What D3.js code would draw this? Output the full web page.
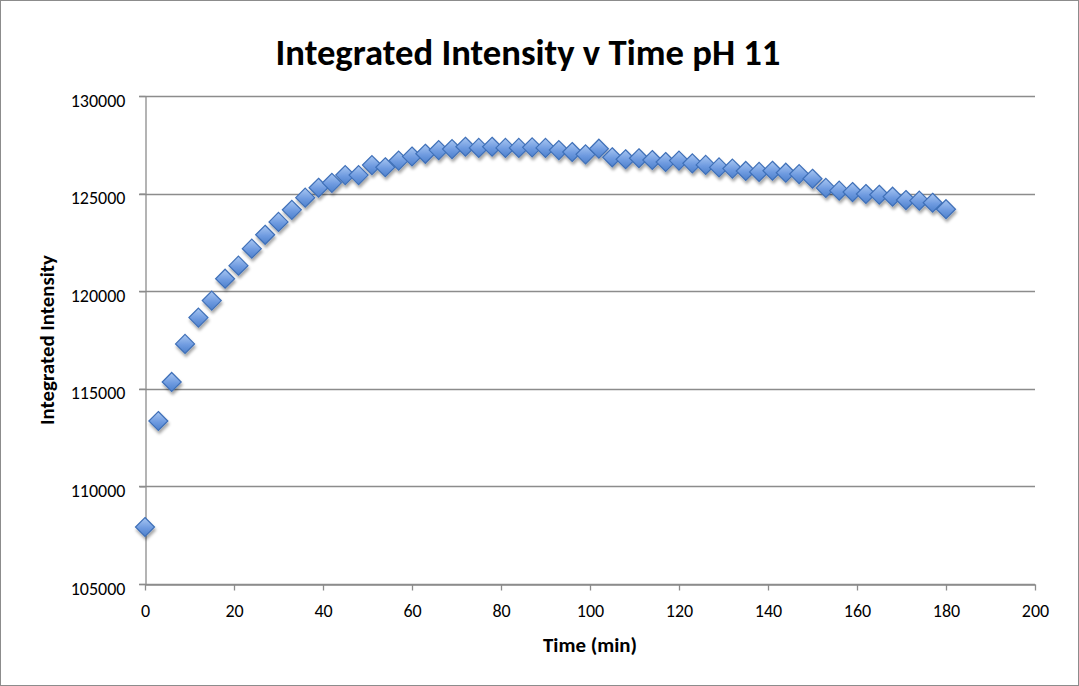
<!DOCTYPE html>
<html>
<head>
<meta charset="utf-8">
<script src="https://cdn.jsdelivr.net/npm/d3@7"></script>
<style>
  body { margin: 0; background: #fff; }
  svg { display: block; }
</style>
</head>
<body>
<script>
// Time points (min) and integrated intensity
const times = [0, 3, 6, 9, 12, 15, 18, 21, 24, 27, 30, 33, 36, 39, 42, 45, 48, 51, 54, 57,
  60, 63, 66, 69, 72, 75, 78, 81, 84, 87, 90, 93, 96, 99, 102, 105, 108, 111, 114, 117,
  120, 123, 126, 129, 132, 135, 138, 141, 144, 147, 150, 153, 156, 159, 162, 165, 168, 171, 174, 177, 180];

const intensity = [107920, 113350, 115350, 117300, 118650, 119520, 120640, 121310, 122180, 122890,
  123550, 124170, 124790, 125300, 125550, 125950, 125950, 126460, 126350, 126690,
  126900, 127040, 127230, 127280, 127400, 127340, 127400, 127340, 127340, 127370,
  127340, 127230, 127130, 127010, 127300, 126860, 126760, 126810, 126720, 126620,
  126690, 126550, 126470, 126340, 126280, 126160, 126110, 126170, 126070, 126000,
  125760, 125290, 125150, 125080, 124980, 124940, 124840, 124670, 124640, 124530, 124200];

const xTicks = [0, 20, 40, 60, 80, 100, 120, 140, 160, 180, 200];
const yTicks = [105000, 110000, 115000, 120000, 125000, 130000];

const data = times.map((t, i) => ({ t: t, v: intensity[i] }));

const width = 1079, height = 686;
const margin = { top: 96, right: 44, bottom: 102, left: 145 };
const font = "Carlito, Calibri, Lato, 'Open Sans', sans-serif";

const svg = d3.select("body").append("svg")
    .attr("width", width)
    .attr("height", height);

// scale a text's font size so that it spans the wanted width
function fitWidth(sel, target) {
  const fs = parseFloat(sel.style("font-size"));
  const w = sel.node().getComputedTextLength();
  if (w > 0) sel.style("font-size", (fs * target / w).toFixed(2) + "px");
}

const defs = svg.append("defs");

const grad = defs.append("linearGradient")
    .attr("id", "diamondFill")
    .attr("x1", 0).attr("y1", 0).attr("x2", 0).attr("y2", 1);
grad.append("stop").attr("offset", "0%").attr("stop-color", "#a9c7f2");
grad.append("stop").attr("offset", "55%").attr("stop-color", "#6f9be0");
grad.append("stop").attr("offset", "100%").attr("stop-color", "#4d80cc");

const shadow = defs.append("filter")
    .attr("id", "shadow")
    .attr("x", "-50%").attr("y", "-50%").attr("width", "200%").attr("height", "200%");
shadow.append("feDropShadow")
    .attr("dx", 1)
    .attr("dy", 3)
    .attr("stdDeviation", 1.8)
    .attr("flood-color", "#000")
    .attr("flood-opacity", 0.35);

// outer frame
svg.append("rect")
    .attr("x", 0.5).attr("y", 0.5)
    .attr("width", width - 1).attr("height", height - 1)
    .attr("fill", "#fff")
    .attr("stroke", "#8c8c8c");

const x = d3.scaleLinear()
    .domain([0, 200])
    .range([margin.left, width - margin.right]);

const y = d3.scaleLinear()
    .domain([105000, 130000])
    .range([height - margin.bottom, margin.top]);

// gridlines
svg.append("g")
  .selectAll("line")
  .data(yTicks)
  .join("line")
    .attr("x1", margin.left - 6)
    .attr("x2", width - margin.right)
    .attr("y1", d => Math.round(y(d)) + 0.5)
    .attr("y2", d => Math.round(y(d)) + 0.5)
    .attr("stroke", "#8c8c8c")
    .attr("stroke-width", 1.3);

// y axis
const yAxis = svg.append("g")
    .attr("transform", `translate(${margin.left + 0.5},0)`)
    .call(d3.axisLeft(y).tickValues(yTicks).tickSize(6).tickSizeOuter(0).tickFormat(d3.format("d")));

// x axis
const xAxis = svg.append("g")
    .attr("transform", `translate(0,${Math.round(y(105000)) + 0.5})`)
    .call(d3.axisBottom(x).tickValues(xTicks).tickSize(6).tickSizeOuter(0));

[xAxis, yAxis].forEach(g => {
  g.select(".domain").attr("stroke", "#8c8c8c").attr("stroke-width", 1.3);
  g.selectAll(".tick line").attr("stroke", "#8c8c8c").attr("stroke-width", 1.3);
  g.selectAll(".tick text")
      .attr("fill", "#000")
      .style("font-family", font)
      .style("font-size", "18px");
});
yAxis.selectAll(".tick text").attr("x", -20).attr("dy", null).attr("y", 10);
xAxis.selectAll(".tick text").attr("dy", null).attr("y", 32);

// markers
const r = 9.5;
svg.append("g")
    .attr("filter", "url(#shadow)")
  .selectAll("path")
  .data(data)
  .join("path")
    .attr("transform", d => `translate(${x(d.t)},${y(d.v)})`)
    .attr("d", `M0,${-r}L${r},0L0,${r}L${-r},0Z`)
    .attr("fill", "url(#diamondFill)")
    .attr("stroke", "#3f70b8")
    .attr("stroke-width", 1.2);

// title
const title = svg.append("text")
    .attr("x", 528)
    .attr("y", 65)
    .attr("text-anchor", "middle")
    .style("font-family", font)
    .style("font-weight", "bold")
    .style("font-size", "36px")
    .text("Integrated Intensity v Time pH 11");
fitWidth(title, 505);

// x axis title
const xTitle = svg.append("text")
    .attr("x", 590)
    .attr("y", 652)
    .attr("text-anchor", "middle")
    .style("font-family", font)
    .style("font-weight", "bold")
    .style("font-size", "20px")
    .text("Time (min)");
fitWidth(xTitle, 94);

// y axis title
const yTitle = svg.append("text")
    .attr("transform", "translate(54,340) rotate(-90)")
    .attr("text-anchor", "middle")
    .style("font-family", font)
    .style("font-weight", "bold")
    .style("font-size", "20px")
    .text("Integrated Intensity");
fitWidth(yTitle, 170);
</script>
</body>
</html>
